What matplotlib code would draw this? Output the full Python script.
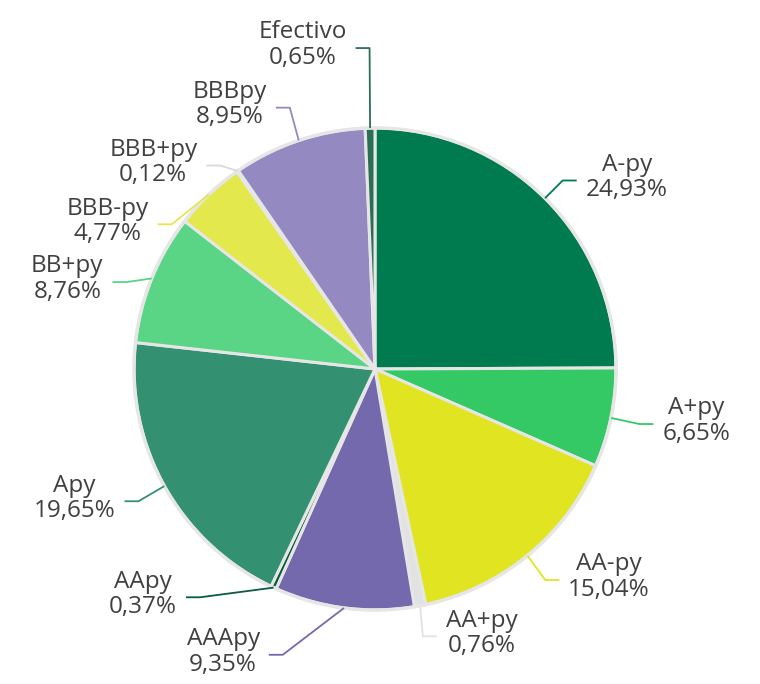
import numpy as np
import matplotlib.pyplot as plt

plt.rcParams['font.family'] = ['Open Sans', 'DejaVu Sans']

labels = ['A-py', 'A+py', 'AA-py', 'AA+py', 'AAApy', 'AApy', 'Apy',
          'BB+py', 'BBB-py', 'BBB+py', 'BBBpy', 'Efectivo']
values = [24.93, 6.65, 15.04, 0.76, 9.35, 0.37, 19.65, 8.76, 4.77, 0.12, 8.95, 0.65]
colors = ['#007a4f', '#34c965', '#e1e521', '#e2e2e2', '#7569ae', '#0a5c3c',
          '#339070', '#5ad485', '#e3e84d', '#d9d9d9', '#9589c2', '#2b6e58']

# label elbow nudges in pixels (dx, dy with y pointing down), to keep labels apart
nudge = [(0, 0), (4, 1), (2, 5), (-2, 6), (-58, 22), (-63, -13), (-4, 3),
         (-2, 13), (-20, 48), (-3, 15), (-1, -9), (0, -55)]

W, H = 760, 684
cx, cy = 375, 684 - 369
R = 241

fig = plt.figure(figsize=(7.6, 6.84), dpi=100)
ax = fig.add_axes([0, 0, 1, 1])

ax.pie(values, colors=colors, startangle=90, counterclock=False,
       center=(cx, cy), radius=R,
       wedgeprops=dict(edgecolor='#e6e6e6', linewidth=2.2))
ax.add_patch(plt.Circle((cx, cy), R, facecolor='none', edgecolor='#e6e6e6', lw=2.4))

cum = np.cumsum([0] + values[:-1])
for i, lab in enumerate(labels):
    mid = (cum[i] + values[i] / 2) / sum(values) * 360
    t = np.radians(mid)
    ax_x, ax_y = cx + R * np.sin(t), cy + R * np.cos(t)
    ex = cx + (R + 25) * np.sin(t) + nudge[i][0]
    ey = cy + (R + 25) * np.cos(t) - nudge[i][1]
    side = 1 if mid < 180 else -1
    hx = ex + side * 14
    ax.plot([ax_x, ex, hx], [ax_y, ey, ey], color=colors[i], lw=1.3,
            solid_capstyle='butt')
    txt = f"{lab}\n{values[i]:.2f}%".replace('.', ',')
    ax.text(hx + side * 9, ey + 3, txt, ha='left' if side > 0 else 'right',
            va='center', multialignment='center', fontsize=17.5,
            color='#404040', linespacing=1.08)

ax.set_xlim(0, W)
ax.set_ylim(0, H)
ax.set_aspect('equal')
ax.axis('off')

fig.savefig('out.png', dpi=100, facecolor='white')
